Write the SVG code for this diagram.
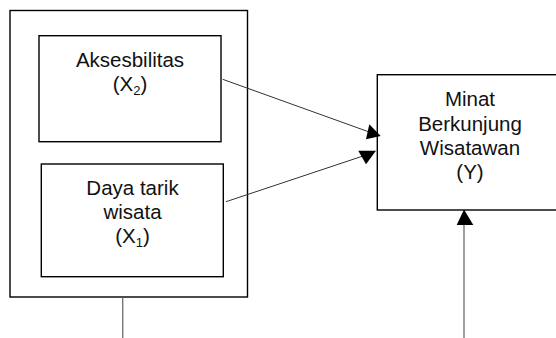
<svg xmlns="http://www.w3.org/2000/svg" width="556" height="338" viewBox="0 0 556 338">
<style>
.box{fill:#fff;stroke:#000;stroke-width:1.4}
.t{font-family:"Liberation Sans",Arial,sans-serif;font-size:20.5px;fill:#111;text-anchor:middle}
.sub{font-size:13px}
.ln{stroke:#333;stroke-width:1;fill:none}
.gl{stroke:#777;stroke-width:1.4;fill:none}
.ah{fill:#000;stroke:none}
</style>
<rect width="556" height="338" fill="#fff"/>
<g id="outer">
<rect class="box" x="10" y="10.5" width="237.5" height="286.5" stroke-width="1.6"/>
</g>
<g id="aksesbilitas">
<rect class="box" x="39" y="35.7" width="182" height="106"/>
<text class="t" x="130" y="66.5">Aksesbilitas</text>
<text class="t" x="130" y="91">(X<tspan class="sub" dy="4">2</tspan><tspan dy="-4">)</tspan></text>
</g>
<g id="daya-tarik">
<rect class="box" x="41.3" y="164" width="182" height="112.7"/>
<text class="t" x="132.5" y="195">Daya tarik</text>
<text class="t" x="132.5" y="219">wisata</text>
<text class="t" x="132.5" y="243">(X<tspan class="sub" dy="4">1</tspan><tspan dy="-4">)</tspan></text>
</g>
<g id="minat">
<rect class="box" x="377.3" y="74.7" width="200" height="135.3"/>
<text class="t" x="470" y="105.5">Minat</text>
<text class="t" x="470" y="130.5">Berkunjung</text>
<text class="t" x="470" y="155">Wisatawan</text>
<text class="t" x="470" y="179">(Y)</text>
</g>
<g id="connectors">
<line class="ln" x1="222.7" y1="79.3" x2="372" y2="133"/>
<polygon class="ah" points="380.7,136 369.3,124.3 366,139.3"/>
<line class="ln" x1="226" y1="201.7" x2="366" y2="155"/>
<polygon class="ah" points="376,150.7 358.3,150.7 366,164.3"/>
<line class="gl" x1="464" y1="338" x2="464" y2="222" stroke="#555"/>
<polygon class="ah" points="464,209.5 456.7,225 473.3,225"/>
<line class="gl" x1="122.7" y1="297.8" x2="122.7" y2="338"/>
</g>
</svg>
